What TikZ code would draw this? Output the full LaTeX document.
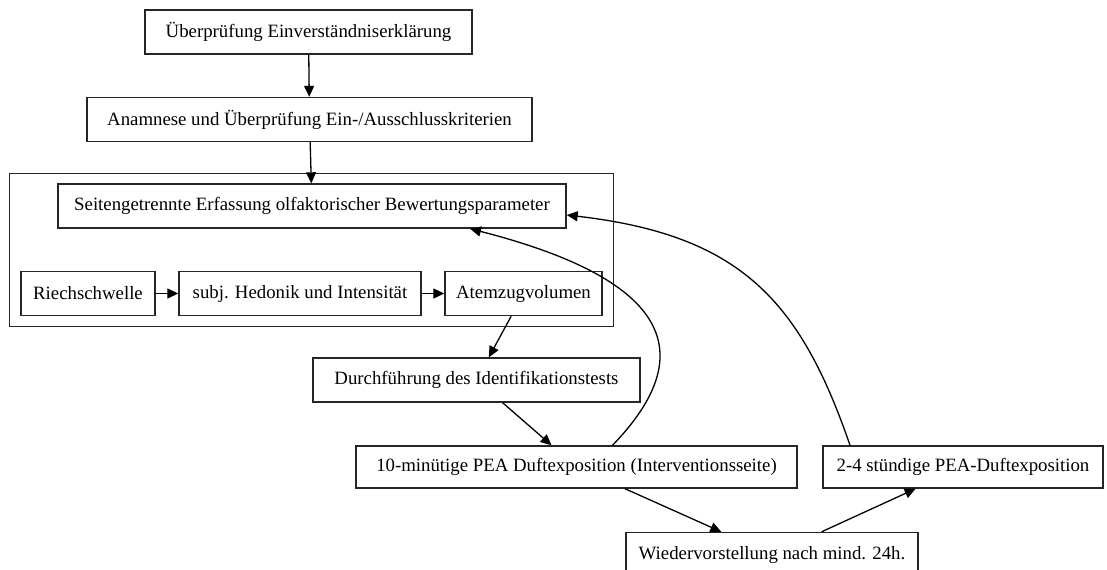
\documentclass[tikz,border=0pt]{standalone}
\usepackage{fontspec}
\setmainfont{Liberation Serif}
\usetikzlibrary{arrows.meta,fit}

\begin{document}
\begin{tikzpicture}[x=0.5pt, y=-0.5pt,
  box/.style={draw=black!85, line width=0.7pt, minimum height=22pt, inner sep=2pt, font=\fontsize{9.4}{11}\selectfont},
  frame/.style={draw=black!85, line width=0.7pt, inner xsep=5.5pt, inner ysep=5pt},
  edge/.style={line width=0.65pt, -{Triangle[length=5.5pt, width=5pt]}}]
  \useasboundingbox (0,0) rectangle (1107,569);
  % screening
  \node[box, minimum width=163.5pt] (consent) at (308.5,32) {Überprüfung Einverständniserklärung};
  \node[box, minimum width=222.5pt] (anamnesis) at (309.5,119.5) {Anamnese und Überprüfung Ein-/Ausschlusskriterien};
  % side-separated assessment
  \node[box, minimum width=254pt] (assess) at (312,206) {Seitengetrennte Erfassung olfaktorischer Bewertungsparameter};
  \node[box, minimum width=67pt] (threshold) at (88,293.5) {Riechschwelle};
  \node[box, minimum width=121pt] (hedonic) at (300,293.5) {subj. Hedonik und Intensität};
  \node[box, minimum width=78.5pt] (tidal) at (523.5,293.5) {Atemzugvolumen};
  \node[frame, fit=(assess)(threshold)(tidal)] (cluster) {};
  % tests and exposition
  \node[box, minimum width=163.5pt] (ident) at (476.5,380) {Durchführung des Identifikationstests};
  \node[box, minimum width=220.5pt, minimum height=21pt] (shortexp) at (576.5,467) {10-minütige PEA Duftexposition (Interventionsseite)};
  \node[box, minimum width=140pt, minimum height=21pt] (longexp) at (963,467) {2-4 stündige PEA-Duftexposition};
  \node[box, minimum width=146pt] (revisit) at (772,554.5) {Wiedervorstellung nach mind. 24h.};
  % arrows
  \draw[edge] (consent) -- (anamnesis);
  \draw[edge] (anamnesis) -- (assess);
  \draw[edge] (threshold) -- (hedonic);
  \draw[edge] (hedonic) -- (tidal);
  \draw[edge] (tidal) -- (ident);
  \draw[edge] (ident) -- (shortexp);
  \draw[edge] (shortexp) -- (revisit);
  \draw[edge] (revisit) -- (longexp);
  \draw[edge] ([xshift=18pt]shortexp.north) .. controls (690,365) and (690,285) .. ([xshift=79pt]assess.south);
  \draw[edge] ([xshift=-56.5pt]longexp.north) .. controls (800,300) and (740,235) .. ([yshift=-4.5pt]assess.east);
\end{tikzpicture}
\end{document}
